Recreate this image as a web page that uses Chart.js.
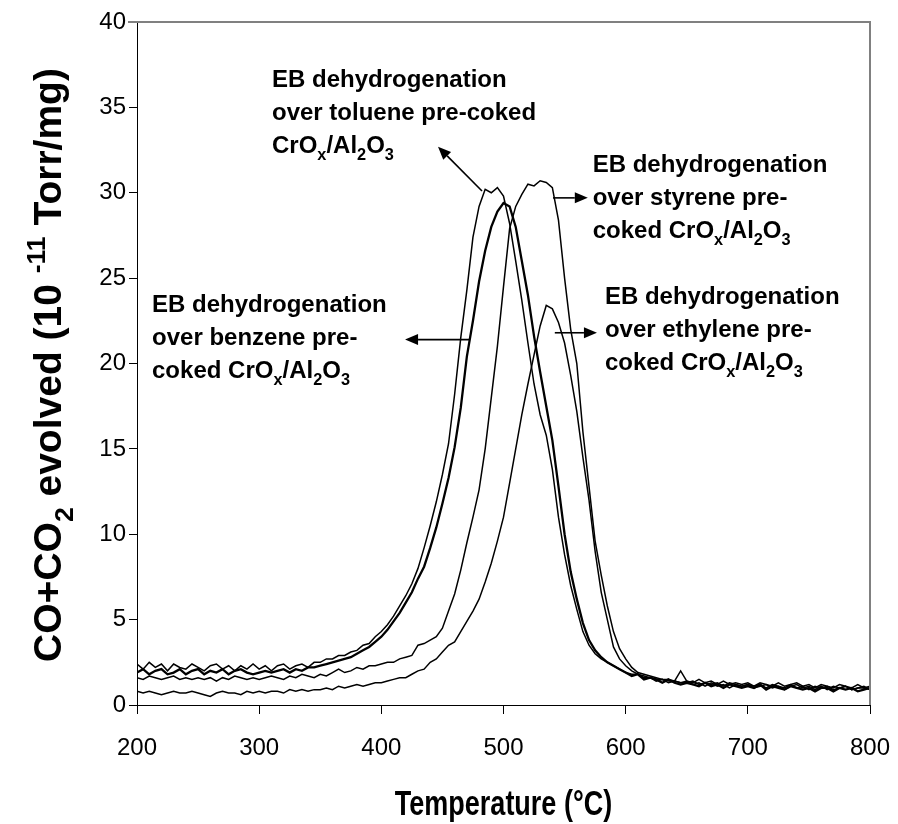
<!DOCTYPE html>
<html>
<head>
<meta charset="utf-8">
<script src="https://cdn.jsdelivr.net/npm/chart.js@4.4.1/dist/chart.umd.min.js"></script>
<style>
  html, body { margin:0; padding:0; background:#fff; }
  #wrap { width:898px; height:824px; }
</style>
</head>
<body>
<div id="wrap"><canvas id="tpo" width="898" height="824"></canvas></div>
<script>
// TPO of coke: CO+CO2 evolved vs temperature, four pre-coked CrOx/Al2O3 samples

const temps = [
  200,205,210,215,220,225,230,235,240,245,
  250,255,260,265,270,275,280,285,290,295,
  300,305,310,315,320,325,330,335,340,345,
  350,355,360,365,370,375,380,385,390,395,
  400,405,410,415,420,425,430,435,440,445,
  450,455,460,465,470,475,480,485,490,495,
  500,505,510,515,520,525,530,535,540,545,
  550,555,560,565,570,575,580,585,590,595,
  600,605,610,615,620,625,630,635,640,645,
  650,655,660,665,670,675,680,685,690,695,
  700,705,710,715,720,725,730,735,740,745,
  750,755,760,765,770,775,780,785,790,795,
  800
];

const toluene = [
  2.4, 2.1, 2.5, 2.2, 2.4, 2.0, 2.4, 2.2, 2.1, 2.4,
  2.2, 2.0, 2.3, 2.4, 2.1, 2.3, 2.0, 2.3, 2.1, 2.4,
  2.1, 2.3, 2.0, 2.3, 2.4, 2.1, 2.3, 2.4, 2.2, 2.5,
  2.5, 2.7, 2.7, 2.9, 2.9, 3.1, 3.2, 3.5, 3.6, 4.0,
  4.3, 4.7, 5.2, 5.8, 6.4, 7.1, 8.0, 9.2, 10.5, 11.9,
  13.5, 15.3, 18.2, 21.5, 24.3, 27.4, 29.2, 30.2, 30.0, 30.3,
  29.8, 28.2, 26.0, 23.7, 21.2, 18.8, 17.0, 15.8, 13.8, 11.0,
  8.8, 7.0, 5.6, 4.3, 3.5, 3.0, 2.7, 2.5, 2.3, 2.1,
  1.9, 1.8, 1.8, 1.6, 1.6, 1.4, 1.5, 1.3, 1.4, 1.3,
  1.4, 1.2, 1.3, 1.1, 1.3, 1.1, 1.2, 1.0, 1.2, 1.1,
  1.2, 1.0, 1.1, 1.2, 1.0, 1.1, 0.9, 1.1, 1.2, 1.0,
  1.1, 0.9, 1.1, 0.9, 1.1, 1.0, 1.1, 0.9, 1.0, 1.1,
  0.9
];

const benzene = [
  1.9, 2.1, 1.8, 2.0, 2.1, 1.8, 1.9, 2.1, 1.8, 2.0,
  2.1, 1.8, 2.0, 1.9, 2.1, 1.8, 2.0, 2.1, 1.9, 1.8,
  1.9, 2.0, 1.9, 2.0, 2.1, 1.9, 2.1, 2.0, 2.2, 2.2,
  2.3, 2.4, 2.5, 2.6, 2.7, 2.8, 3.0, 3.2, 3.4, 3.7,
  4.0, 4.4, 4.9, 5.4, 6.0, 6.6, 7.4, 8.1, 9.2, 10.4,
  11.8, 13.3, 15.1, 17.4, 20.4, 22.5, 24.8, 26.6, 28.0, 28.9,
  29.4, 29.2, 28.0, 26.0, 24.0, 21.6, 19.5, 17.5, 15.5, 12.8,
  10.0, 7.8, 6.2, 4.8, 3.8, 3.2, 2.8, 2.5, 2.3, 2.1,
  1.9, 1.7, 1.8, 1.5, 1.6, 1.5, 1.3, 1.5, 1.3, 1.2,
  1.3, 1.2, 1.1, 1.3, 1.1, 1.2, 1.0, 1.2, 1.1, 1.0,
  1.1, 1.0, 1.2, 0.9, 1.1, 1.0, 0.9, 1.1, 1.0, 0.9,
  1.0, 0.8, 1.0, 1.0, 0.8, 1.0, 0.9, 1.0, 0.8, 0.9,
  1.0
];

const styrene = [
  1.6, 1.5, 1.7, 1.6, 1.5, 1.6, 1.7, 1.5, 1.6, 1.5,
  1.6, 1.5, 1.6, 1.4, 1.6, 1.5, 1.7, 1.6, 1.5, 1.6,
  1.5, 1.6, 1.7, 1.6, 1.5, 1.7, 1.6, 1.8, 1.7, 1.6,
  1.8, 1.7, 1.9, 2.1, 1.9, 2.0, 2.2, 2.1, 2.3, 2.3,
  2.4, 2.5, 2.5, 2.7, 2.8, 2.9, 3.5, 3.6, 3.8, 4.0,
  4.5, 5.5, 6.5, 7.9, 9.5, 11.0, 12.6, 15.0, 18.0, 21.0,
  24.5, 27.9, 29.2, 29.9, 30.5, 30.4, 30.7, 30.6, 30.3, 28.4,
  25.0, 22.0, 20.0, 16.0, 12.8, 9.6, 7.6, 5.8, 4.3, 3.3,
  2.7, 2.2, 1.9, 1.8, 1.7, 1.6, 1.5, 1.5, 1.4, 2.0,
  1.4, 1.3, 1.5, 1.3, 1.4, 1.2, 1.4, 1.2, 1.3, 1.2,
  1.3, 1.1, 1.3, 1.2, 1.1, 1.3, 1.1, 1.2, 1.3, 1.1,
  1.2, 1.0, 1.2, 1.1, 1.0, 1.2, 1.1, 1.0, 1.2, 1.0,
  1.1
];

const ethylene = [
  0.8, 0.7, 0.8, 0.7, 0.6, 0.7, 0.8, 0.7, 0.7, 0.8,
  0.7, 0.6, 0.5, 0.7, 0.8, 0.7, 0.7, 0.6, 0.8, 0.7,
  0.8, 0.7, 0.8, 0.8, 0.7, 0.9, 0.8, 0.9, 0.8, 0.9,
  0.9, 1.0, 0.9, 1.1, 1.0, 1.1, 1.2, 1.1, 1.2, 1.3,
  1.3, 1.4, 1.5, 1.6, 1.6, 1.8, 2.0, 2.1, 2.5, 2.7,
  3.1, 3.5, 3.7, 4.3, 4.9, 5.5, 6.2, 7.2, 8.3, 9.6,
  11.0, 13.0, 15.0, 17.0, 18.8, 20.5, 22.2, 23.4, 23.2, 22.4,
  21.2, 19.3, 17.2, 14.5, 12.0, 9.0, 6.6, 5.0, 3.4, 2.7,
  2.3, 2.0, 1.8, 1.7, 1.6, 1.5, 1.5, 1.4, 1.4, 1.3,
  1.3, 1.4, 1.2, 1.3, 1.2, 1.3, 1.1, 1.3, 1.2, 1.1,
  1.2, 1.1, 1.2, 1.0, 1.2, 1.1, 1.0, 1.2, 1.0, 1.1,
  0.9, 1.1, 1.0, 1.1, 0.9, 1.0, 1.1, 0.9, 1.0, 1.0,
  0.9
];

// axis ranges / ticks
const xMin = 200, xMax = 800, xStep = 100;
const yMin = 0, yMax = 40, yStep = 5;

// note texts ("_" = next char is a subscript)
const tolueneNote  = ["EB dehydrogenation", "over toluene pre-coked", "CrO_x/Al_2O_3"];
const benzeneNote  = ["EB dehydrogenation", "over benzene pre-", "coked CrO_x/Al_2O_3"];
const styreneNote  = ["EB dehydrogenation", "over styrene pre-", "coked CrO_x/Al_2O_3"];
const ethyleneNote = ["EB dehydrogenation", "over ethylene pre-", "coked CrO_x/Al_2O_3"];

const FONT = '"Liberation Sans", Arial, Helvetica, sans-serif';

// where each note sits (data units): text left / first baseline, arrow tail -> tip
const notes = [
  { lines: tolueneNote,  at: [310.5, 36.2], arrow: [482.4, 30.1, 446.4, 32.7] },
  { lines: benzeneNote,  at: [212.3, 23.0], arrow: [472.6, 21.4, 419.4, 21.4] },
  { lines: styreneNote,  at: [573.0, 31.2], arrow: [540.5, 29.7, 569.0, 29.7] },
  { lines: ethyleneNote, at: [583.0, 23.5], arrow: [542.0, 21.8, 576.5, 21.8] },
];

function pts(ys){ return temps.map((t,i)=>({x:t, y:ys[i]})); }

function splitRich(str){
  // returns [[text, mode]] with mode 0 normal, 1 subscript
  const out=[]; let buf="";
  for (let i=0;i<str.length;i++){
    if (str[i]==="_" && i+1<str.length){
      if (buf) out.push([buf,0]); buf="";
      out.push([str[i+1],1]); i++;
    } else buf+=str[i];
  }
  if (buf) out.push([buf,0]);
  return out;
}

// segs: [[text, mode]] mode 0 normal, 1 sub, 2 sup
function richWidth(ctx, segs, size){
  let w=0;
  for (const [t,m] of segs){
    ctx.font = `bold ${m ? size*0.68 : size}px ${FONT}`;
    w += ctx.measureText(t).width;
  }
  return w;
}
function drawRich(ctx, segs, x, y, size){
  let cx=x;
  for (const [t,m] of segs){
    ctx.font = `bold ${m ? size*0.68 : size}px ${FONT}`;
    const dy = m===1 ? size*0.30 : (m===2 ? -size*0.42 : 0);
    ctx.fillText(t, cx, y+dy);
    cx += ctx.measureText(t).width;
  }
}

const decorPlugin = {
  id: "decor",
  afterDatasetsDraw(chart){
    const {ctx, chartArea:a, scales:{x, y}} = chart;
    ctx.save();

    // grey frame on top and right
    ctx.strokeStyle="#808080"; ctx.lineWidth=2;
    ctx.beginPath();
    ctx.moveTo(a.left-9, a.top); ctx.lineTo(a.right, a.top); ctx.lineTo(a.right, a.bottom);
    ctx.stroke();

    ctx.fillStyle="#000"; ctx.strokeStyle="#000";
    ctx.textBaseline="alphabetic"; ctx.textAlign="left";

    // notes + arrows
    const size=24, pitch=33;
    for (const n of notes){
      const tx=x.getPixelForValue(n.at[0]), ty=y.getPixelForValue(n.at[1]);
      n.lines.forEach((ln,i)=>drawRich(ctx, splitRich(ln), tx, ty+i*pitch, size));

      const x0=x.getPixelForValue(n.arrow[0]), y0=y.getPixelForValue(n.arrow[1]);
      const x1=x.getPixelForValue(n.arrow[2]), y1=y.getPixelForValue(n.arrow[3]);
      const ang=Math.atan2(y1-y0, x1-x0), hl=13, hw=5.5;
      const bx=x1-hl*Math.cos(ang), by=y1-hl*Math.sin(ang);
      ctx.lineWidth=1.6;
      ctx.beginPath(); ctx.moveTo(x0,y0); ctx.lineTo(bx,by); ctx.stroke();
      ctx.beginPath();
      ctx.moveTo(x1,y1);
      ctx.lineTo(bx+hw*Math.sin(ang), by-hw*Math.cos(ang));
      ctx.lineTo(bx-hw*Math.sin(ang), by+hw*Math.cos(ang));
      ctx.closePath(); ctx.fill();
    }

    // x title, slightly condensed
    ctx.save();
    ctx.translate((a.left+a.right)/2, 815);
    ctx.scale(0.9, 1.15);
    ctx.font=`bold 30px ${FONT}`; ctx.textAlign="center";
    ctx.fillText("Temperature (°C)", 0, 0);
    ctx.restore();

    // y title, rotated, with sub/superscript
    const ySize=39;
    const ySegs=[["CO+CO",0],["2",1],[" evolved (10 ",0],["-11",2],[" Torr/mg)",0]];
    ctx.textAlign="left";
    ctx.translate(61, 365);
    ctx.rotate(-Math.PI/2);
    const w=richWidth(ctx, ySegs, ySize);
    drawRich(ctx, ySegs, -w/2, 0, ySize);

    ctx.restore();
  }
};

const lineStyle = { borderColor:"#000", borderWidth:1.5, pointRadius:0, tension:0, fill:false };

new Chart(document.getElementById("tpo"), {
  type: "line",
  data: {
    datasets: [
      { label:"toluene",  data:pts(toluene),  ...lineStyle },
      { label:"benzene",  data:pts(benzene),  ...lineStyle, borderWidth:2.3 },
      { label:"styrene",  data:pts(styrene),  ...lineStyle },
      { label:"ethylene", data:pts(ethylene), ...lineStyle },
    ]
  },
  options: {
    responsive:false,
    animation:false,
    devicePixelRatio:1,
    layout:{ padding:{ top:22, right:28, left:0, bottom:0 } },
    plugins:{ legend:{display:false}, tooltip:{enabled:false} },
    scales:{
      x:{
        type:"linear", min:xMin, max:xMax,
        // fixed band height; end labels may overhang the plot edges
        afterFit(s){ s.height = 119; s.paddingLeft = 0; s.paddingRight = 0; },
        ticks:{ stepSize:xStep, color:"#000", padding:20, maxRotation:0,
                font:{ family:FONT, size:24 } },
        grid:{ drawOnChartArea:false, drawTicks:true, tickLength:9, color:"#000", lineWidth:1 },
        border:{ display:true, color:"#000", width:1 }
      },
      y:{
        min:yMin, max:yMax,
        afterFit(s){ s.width = 137; s.paddingTop = 0; s.paddingBottom = 0; },
        ticks:{ stepSize:yStep, color:"#000", padding:3,
                font:{ family:FONT, size:24 } },
        grid:{ drawOnChartArea:false, drawTicks:true, tickLength:8, color:"#000", lineWidth:1 },
        border:{ display:true, color:"#000", width:1 }
      }
    }
  },
  plugins:[decorPlugin]
});
</script>
</body>
</html>
